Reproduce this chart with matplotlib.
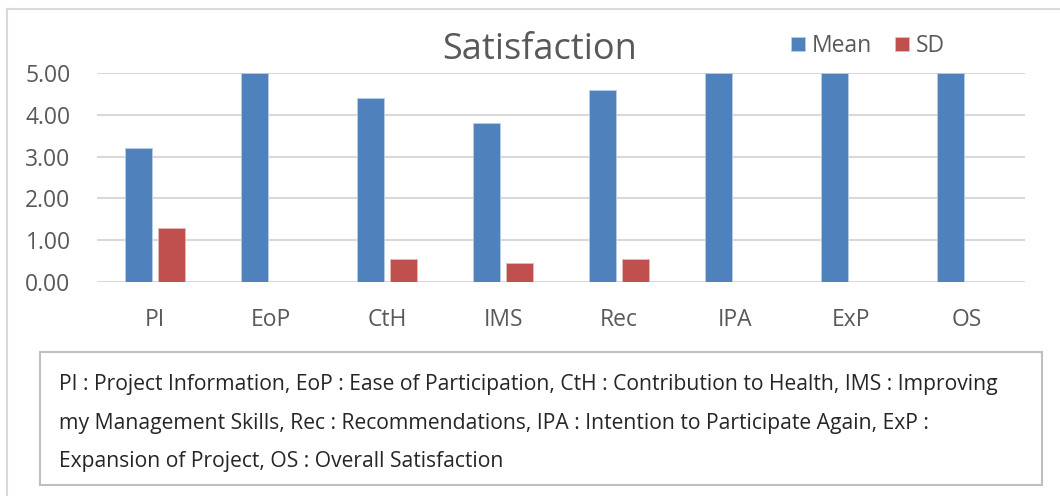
import matplotlib
matplotlib.use("Agg")
import matplotlib.pyplot as plt
from matplotlib.patches import Rectangle
from matplotlib.lines import Line2D
import numpy as np

plt.rcParams['font.family'] = ['Open Sans', 'DejaVu Sans']

categories = ['PI', 'EoP', 'CtH', 'IMS', 'Rec', 'IPA', 'ExP', 'OS']
mean_vals = [3.2, 5.0, 4.4, 3.8, 4.6, 5.0, 5.0, 5.0]
sd_vals = [1.3, 0.0, 0.55, 0.45, 0.55, 0.0, 0.0, 0.0]
yticks = [0, 1, 2, 3, 4, 5]
note = ("PI : Project Information, EoP : Ease of Participation, CtH : Contribution to Health, IMS : Improving\n"
        "my Management Skills, Rec : Recommendations, IPA : Intention to Participate Again, ExP :\n"
        "Expansion of Project, OS : Overall Satisfaction")

BLUE = '#4F81BD'
RED = '#C0504D'
TXT = '#595959'
GRID = '#D9D9D9'

W, H = 1060, 496
fig = plt.figure(figsize=(W / 100, H / 100), dpi=100)
ax = fig.add_axes([97 / W, 1 - 282 / H, (1025 - 97) / W, (282 - 73) / H])

x = np.arange(len(categories))
bw = 0.225
gap = 0.06
ax.bar(x - (bw + gap) / 2, mean_vals, bw, color=BLUE, edgecolor='#B9CDE5', linewidth=0.6, label='Mean', zorder=3)
ax.bar(x + (bw + gap) / 2, sd_vals, bw, color=RED, edgecolor='#E6B9B8', linewidth=0.6, label='SD', zorder=3)

ax.set_xlim(-0.5, len(categories) - 0.5)
ax.set_ylim(0, 5)
ax.set_yticks(yticks)
ax.set_yticklabels(['%.2f' % v for v in yticks])
ax.set_xticks(x)
ax.set_xticklabels(categories)
ax.tick_params(axis='both', length=0, labelsize=16.5, colors=TXT)
ax.tick_params(axis='x', pad=19)
ax.tick_params(axis='y', pad=19)
ax.grid(axis='y', color=GRID, linewidth=1.5, zorder=0)
for s in ax.spines.values():
    s.set_visible(False)

fig.text(540 / W, 1 - 50 / H, 'Satisfaction', ha='center', va='center', fontsize=26, color=TXT)
fig.legend(loc='center', bbox_to_anchor=(868 / W, 1 - 46 / H), ncol=2, frameon=False,
           fontsize=16.5, labelcolor=TXT, handlelength=0.6, handleheight=0.6,
           handletextpad=0.3, columnspacing=1.0)

# outer frame (top and left edges visible)
fig.add_artist(Line2D([7 / W, 7 / W], [0, 1 - 9 / H], color='#D9D9D9', linewidth=1.5))
fig.add_artist(Line2D([7 / W, 1], [1 - 9 / H, 1 - 9 / H], color='#D9D9D9', linewidth=1.5))

# note box
fig.add_artist(Rectangle((40 / W, 1 - 485 / H), (1042 - 40) / W, (485 - 352) / H,
                         transform=fig.transFigure, facecolor='white', edgecolor='#BFBFBF', linewidth=1.5))
fig.text(59 / W, 1 - 423 / H, note, ha='left', va='center', fontsize=15.2, color='#262626', linespacing=2.1)

fig.savefig('out.png', dpi=100, facecolor='white')
